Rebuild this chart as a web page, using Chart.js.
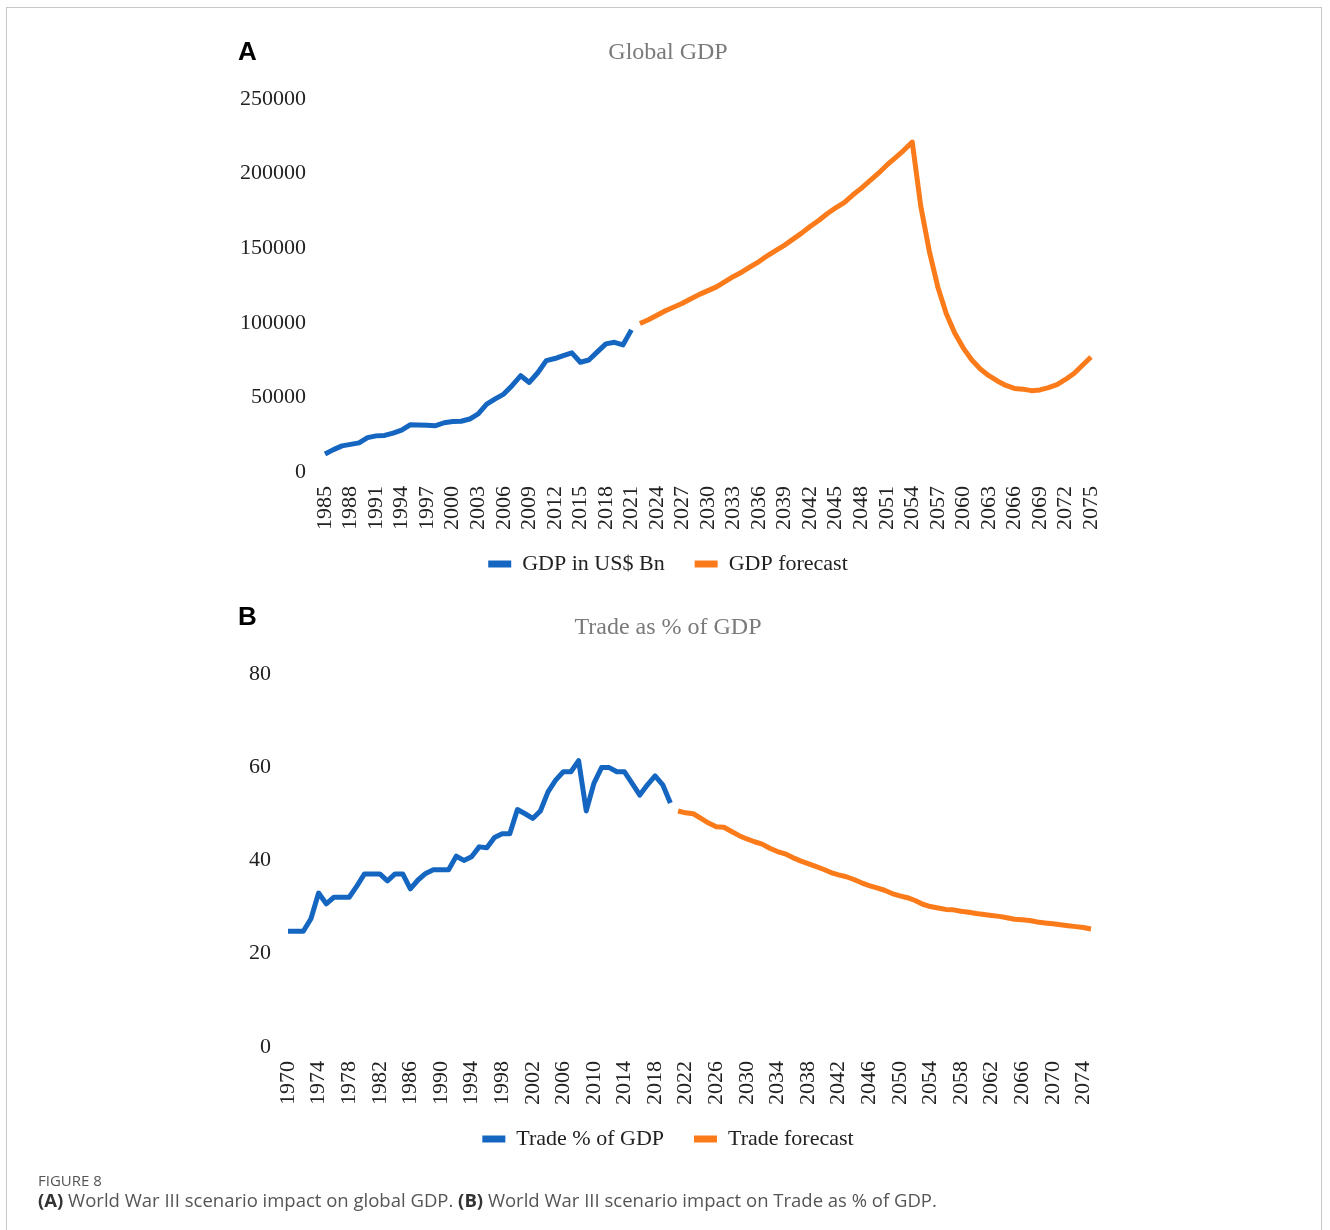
<!DOCTYPE html>
<html>
<head>
<meta charset="utf-8">
<script src="https://cdn.jsdelivr.net/npm/chart.js@4/dist/chart.umd.min.js"></script>
<style>
  body { margin: 0; background: #fff; }
  #page { position: relative; width: 1330px; height: 1230px; overflow: hidden; }
  #frame { position: absolute; left: 6px; top: 7px; width: 1316px; height: 1240px; border: 1px solid #c8c8c8; box-sizing: border-box; }
  canvas { position: absolute; left: 0; }
  .panel { position: absolute; left: 238px; font: bold 26px "Liberation Sans", Arial, sans-serif; color: #000; }
  #caption { position: absolute; left: 38px; top: 1171px; font-family: "Open Sans", "Noto Sans", sans-serif; color: #555; }
  #caption .fig { font-size: 15px; line-height: 18px; }
  #caption .txt { font-size: 18.5px; line-height: 22px; }
  #caption b { color: #333; }
</style>
</head>
<body>
<div id="page">
  <div id="frame"></div>
  <canvas id="chartA" width="1330" height="620" style="top:0"></canvas>
  <canvas id="chartB" width="1330" height="620" style="top:570px"></canvas>
  <div class="panel" style="top:36px">A</div>
  <div class="panel" style="top:601px">B</div>
  <div id="caption">
    <div class="fig">FIGURE 8</div>
    <div class="txt"><b>(A)</b> World War III scenario impact on global GDP. <b>(B)</b> World War III scenario impact on Trade as % of GDP.</div>
  </div>
</div>
<script>
// A: 世界GDP (US$ Bn)
const gdpYears = Array.from({ length: 91 }, (_, i) => String(1985 + i));
const gdpActual = [12000, 15000, 17500, 18500, 19500, 23000, 24200, 24500, 26000, 28000,
  31600, 31500, 31300, 31000, 33000, 33800, 34000, 35500, 39000, 45500,
  49000, 52200, 58000, 64500, 60000, 66500, 74600, 76000, 78000, 79800,
  73500, 75000, 80500, 85800, 86900, 85100, 95200];
const gdpForecast = [99500, 102000, 105000, 108000, 110500, 113000, 116000, 119000, 121500, 124000,
  127500, 131000, 134000, 137500, 141000, 145000, 148500, 152000, 156000, 160000,
  164500, 168500, 173000, 177000, 180500, 185500, 190000, 195000, 200000, 205500,
  210500, 215500, 221000,
  178000, 148000, 124000, 106000, 93000, 83000, 75000, 69000, 64500, 61000,
  58000, 56000, 55500, 54500, 55000, 56500, 58500, 62000, 66000, 71500, 77000];
const gdpTicks = [0, 50000, 100000, 150000, 200000, 250000];

// B: 貿易 (% of GDP)
const tradeYears = Array.from({ length: 106 }, (_, i) => String(1970 + i));
const tradeActual = [24.8, 24.8, 24.8, 27.5, 33.0, 30.7, 32.1, 32.1, 32.1, 34.5,
  37.1, 37.1, 37.1, 35.6, 37.1, 37.1, 33.9, 35.8, 37.2, 38.0,
  38.0, 38.0, 40.9, 40.0, 40.8, 42.9, 42.7, 44.9, 45.7, 45.7,
  50.9, 50.0, 49.0, 50.6, 54.7, 57.2, 59.0, 59.0, 61.4, 50.6,
  56.5, 59.9, 59.9, 59.0, 59.0, 56.5, 54.0, 56.2, 58.1, 56.2, 52.3];
const tradeForecast = [50.6, 50.2, 50.0, 49.0, 48.0, 47.2, 47.1, 46.2, 45.3, 44.6,
  44.0, 43.5, 42.6, 41.9, 41.4, 40.6, 39.9, 39.3, 38.7, 38.1,
  37.4, 36.9, 36.5, 35.9, 35.2, 34.6, 34.1, 33.6, 32.9, 32.4,
  32.0, 31.4, 30.6, 30.1, 29.8, 29.5, 29.4, 29.1, 28.9, 28.6,
  28.4, 28.2, 28.0, 27.7, 27.4, 27.3, 27.1, 26.8, 26.6, 26.4,
  26.2, 26.0, 25.8, 25.6, 25.3];
const tradeTicks = [0, 20, 40, 60, 80];

const BLUE = "#1566c0";
const ORANGE = "#fb7b1b";
const SERIF = '"Liberation Serif", "DejaVu Serif", serif';

function lineSet(label, data, color) {
  return {
    label: label,
    data: data,
    borderColor: color,
    backgroundColor: color,
    borderWidth: 5,
    pointRadius: 0,
    tension: 0,
    borderJoinStyle: "round",
    spanGaps: false
  };
}

// 目盛り文字が軸の枠からはみ出すので切り取らない
const noClip = s => { s._computeLabelArea = () => undefined; };

function makeChart(id, o) {
  const n1 = o.actual.length;
  const n2 = o.forecast.length;
  return new Chart(document.getElementById(id), {
    type: "line",
    data: {
      labels: o.labels,
      datasets: [
        lineSet(o.names[0], o.actual.concat(Array(n2).fill(null)), BLUE),
        lineSet(o.names[1], Array(n1).fill(null).concat(o.forecast), ORANGE)
      ]
    },
    options: {
      responsive: false,
      devicePixelRatio: 1,
      animation: false,
      layout: { padding: { left: 245, right: 239, top: o.top, bottom: o.bottom } },
      plugins: {
        title: {
          display: true,
          text: o.title,
          color: "#7a7a7a",
          font: { family: SERIF, size: 24, weight: "normal" },
          padding: { top: 0, bottom: 32 }
        },
        legend: {
          position: "bottom",
          labels: {
            color: "#222",
            font: { family: SERIF, size: 22 },
            boxWidth: 23,
            boxHeight: 7,
            padding: 30,
            generateLabels: function (chart) {
              const items = Chart.defaults.plugins.legend.labels.generateLabels(chart);
              items.forEach(it => { it.lineWidth = 0; });
              return items;
            }
          }
        },
        tooltip: { enabled: false }
      },
      scales: {
        x: {
          grid: { display: false },
          border: { display: false },
          afterFit: s => { s.height = 51; noClip(s); },
          ticks: {
            autoSkip: false,
            minRotation: 90,
            maxRotation: 90,
            padding: 6,
            color: "#222",
            font: { family: SERIF, size: 22 },
            callback: function (v, i) {
              return i % o.step === 0 ? this.getLabelForValue(v) : "";
            }
          }
        },
        y: {
          min: 0,
          max: o.ticks[o.ticks.length - 1],
          grid: { display: false },
          border: { display: false },
          afterFit: s => { s.width = o.yWidth; noClip(s); },
          afterBuildTicks: s => { s.ticks = o.ticks.map(v => ({ value: v })); },
          ticks: {
            padding: o.yPad,
            color: "#222",
            font: { family: SERIF, size: 22 },
            callback: v => String(v)
          }
        }
      }
    }
  });
}

makeChart("chartA", {
  labels: gdpYears, actual: gdpActual, forecast: gdpForecast, ticks: gdpTicks,
  names: ["GDP in US$ Bn", "GDP forecast"], title: "Global GDP",
  step: 3, yWidth: 80, yPad: 11, top: 38, bottom: 35
});

makeChart("chartB", {
  labels: tradeYears, actual: tradeActual, forecast: tradeForecast, ticks: tradeTicks,
  names: ["Trade % of GDP", "Trade forecast"], title: "Trade as % of GDP",
  step: 4, yWidth: 43, yPad: 9, top: 43, bottom: 30
});
</script>
</body>
</html>
